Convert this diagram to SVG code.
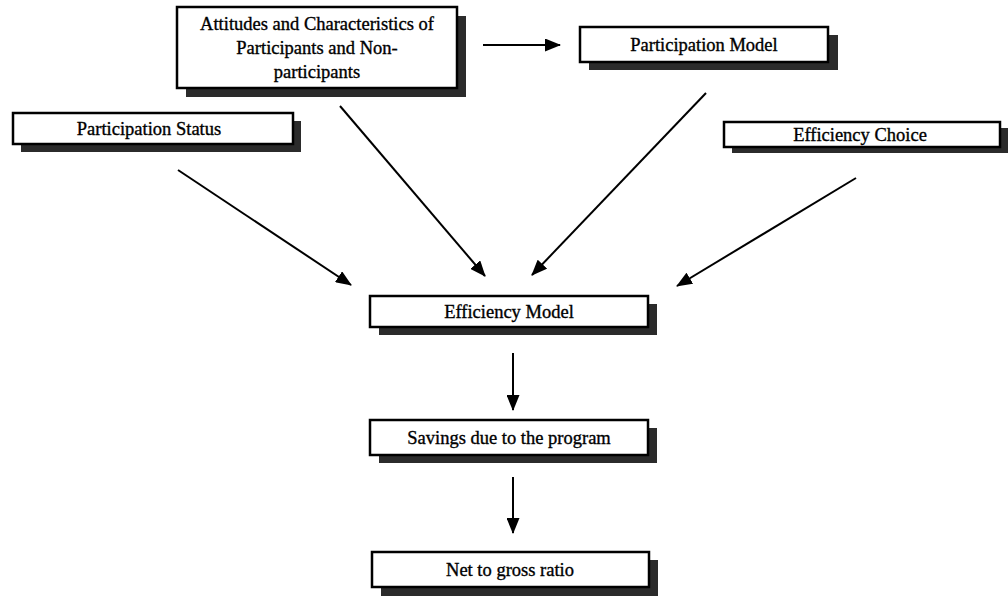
<svg xmlns="http://www.w3.org/2000/svg" width="1008" height="596" viewBox="0 0 1008 596">
  <style>
    .shadow { fill: #2b2b2b; }
    .box { fill: #ffffff; stroke: #000000; stroke-width: 2.5; }
    .label { font-family: "Liberation Serif", "Times New Roman", serif; font-size: 18.5px; fill: #000000; stroke: #000000; stroke-width: 0.35; text-anchor: middle; }
    .conn { stroke: #000000; stroke-width: 2; fill: none; marker-end: url(#arrow); }
  </style>
  <defs>
    <marker id="arrow" viewBox="0 0 16 13" refX="15" refY="6.5" markerWidth="16" markerHeight="13" markerUnits="userSpaceOnUse" orient="auto">
      <path d="M0,0 L16,6.5 L0,13 Z" fill="#000000"/>
    </marker>
  </defs>
  <rect width="1008" height="596" fill="#ffffff"/>

  <!-- connectors -->
  <g id="connectors">
    <line class="conn" x1="483" y1="45" x2="560" y2="45"/>
    <line class="conn" x1="178" y1="170" x2="351" y2="285"/>
    <line class="conn" x1="340" y1="106" x2="485" y2="276"/>
    <line class="conn" x1="706" y1="93" x2="532" y2="275"/>
    <line class="conn" x1="856" y1="178" x2="677" y2="286"/>
    <line class="conn" x1="513" y1="353" x2="513" y2="410"/>
    <line class="conn" x1="513" y1="477" x2="513" y2="533"/>
  </g>

  <!-- nodes -->
  <g id="attitudes">
    <rect class="shadow" x="186" y="16" width="280" height="81"/>
    <rect class="box" x="177" y="7" width="280" height="81"/>
    <text class="label" x="317" y="30">Attitudes and Characteristics of</text>
    <text class="label" x="317" y="54">Participants and Non-</text>
    <text class="label" x="317" y="78">participants</text>
  </g>

  <g id="participation-model">
    <rect class="shadow" x="589" y="35" width="249" height="35"/>
    <rect class="box" x="580" y="27" width="248" height="35"/>
    <text class="label" x="704" y="51">Participation Model</text>
  </g>

  <g id="participation-status">
    <rect class="shadow" x="21" y="121" width="280" height="31"/>
    <rect class="box" x="13" y="113" width="280" height="31"/>
    <text class="label" x="149" y="135">Participation Status</text>
  </g>

  <g id="efficiency-choice">
    <rect class="shadow" x="732" y="128" width="276" height="25"/>
    <rect class="box" x="724" y="122" width="276" height="25"/>
    <text class="label" x="860" y="141">Efficiency Choice</text>
  </g>

  <g id="efficiency-model">
    <rect class="shadow" x="379" y="304" width="278" height="31"/>
    <rect class="box" x="370" y="296" width="278" height="31"/>
    <text class="label" x="509" y="318">Efficiency Model</text>
  </g>

  <g id="savings">
    <rect class="shadow" x="379" y="428" width="278" height="35"/>
    <rect class="box" x="370" y="420" width="278" height="35"/>
    <text class="label" x="509" y="444">Savings due to the program</text>
  </g>

  <g id="net-to-gross">
    <rect class="shadow" x="381" y="560" width="277" height="36"/>
    <rect class="box" x="372" y="552" width="277" height="35"/>
    <text class="label" x="510" y="576">Net to gross ratio</text>
  </g>
</svg>
